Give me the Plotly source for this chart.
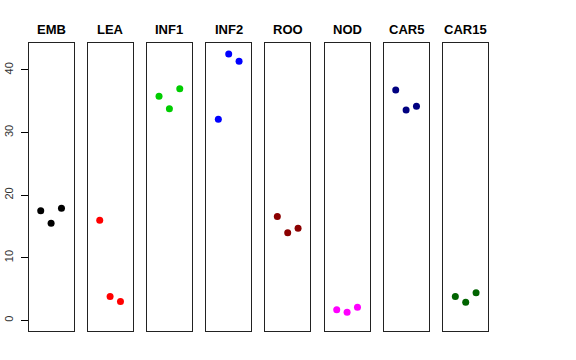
import plotly.graph_objects as go

categories = ["EMB", "LEA", "INF1", "INF2", "ROO", "NOD", "CAR5", "CAR15"]
colors = ["#000000", "#FF0000", "#00CD00", "#0000FF", "#8B0000", "#FF00FF", "#000080", "#006400"]
values = [
    [17.5, 15.5, 17.9],
    [16.0, 3.8, 3.0],
    [35.8, 33.8, 37.0],
    [32.1, 42.55, 41.4],
    [16.6, 14.0, 14.7],
    [1.7, 1.3, 2.1],
    [36.8, 33.6, 34.2],
    [3.8, 2.9, 4.4],
]
x_positions = [1, 2, 3]
y_ticks = [0, 10, 20, 30, 40]

W, H = 576, 360
panel_left = [28.7, 87.7, 147.0, 206.3, 265.3, 324.7, 383.7, 443.3]
panel_w = 44.8
y_top, y_bot = 43.3, 331.0

fig = go.Figure()
layout = dict(
    width=W, height=H,
    margin=dict(l=0, r=0, t=0, b=0, autoexpand=False),
    paper_bgcolor="white", plot_bgcolor="white",
    showlegend=False,
    font=dict(family="Liberation Sans, Arial, sans-serif", color="black"),
)
annotations = []
for i, (cat, col, vals) in enumerate(zip(categories, colors, values)):
    n = i + 1
    xa = "x" if n == 1 else f"x{n}"
    ya = "y" if n == 1 else f"y{n}"
    fig.add_trace(go.Scatter(
        x=x_positions, y=vals, mode="markers",
        marker=dict(color=col, size=7, line=dict(width=0)),
        xaxis=xa, yaxis=ya, hoverinfo="skip",
    ))
    x0 = panel_left[i] / W
    x1 = (panel_left[i] + panel_w) / W
    layout["xaxis" if n == 1 else f"xaxis{n}"] = dict(
        domain=[x0, x1], range=[-0.16, 4.16], showticklabels=False, ticks="",
        showgrid=False, zeroline=False, showline=True, mirror=True,
        linecolor="#222222", linewidth=1, anchor=ya, automargin=False,
    )
    ydict = dict(
        domain=[(H - y_bot) / H, (H - y_top) / H], range=[-1.70, 44.25],
        showgrid=False, zeroline=False, showline=True, mirror=True,
        linecolor="#222222", linewidth=1, anchor=xa, automargin=False,
    )
    if n == 1:
        ydict.update(tickvals=y_ticks, ticks="outside", ticklen=7, tickcolor="black",
                     tickangle=-90, tickfont=dict(size=11, color="#333333"),
                     ticklabelstandoff=3)
    else:
        ydict.update(showticklabels=False, ticks="", matches="y")
    layout["yaxis" if n == 1 else f"yaxis{n}"] = ydict
    annotations.append(dict(
        text=f"<b>{cat}</b>", x=(panel_left[i] + panel_w / 2) / W, y=(H - 29) / H,
        xref="paper", yref="paper", showarrow=False, xanchor="center", yanchor="middle",
        font=dict(size=13, color="black"),
    ))
layout["annotations"] = annotations
fig.update_layout(**layout)
fig.write_html("out.html", config={"displayModeBar": False, "staticPlot": True},
               post_script="document.body.style.margin='0';")
